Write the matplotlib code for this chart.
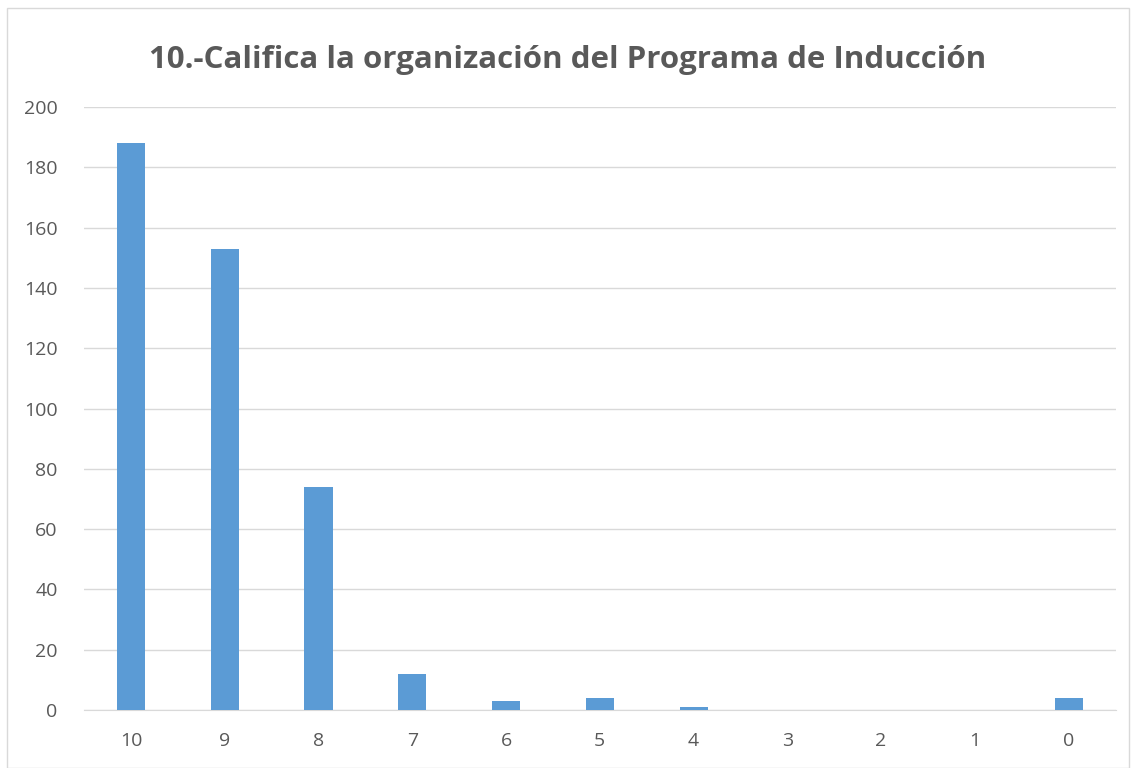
import matplotlib.pyplot as plt
from matplotlib.patches import Rectangle
import numpy as np

categories = ["10", "9", "8", "7", "6", "5", "4", "3", "2", "1", "0"]
counts = [188, 153, 74, 12, 3, 4, 1, 0, 0, 0, 4]

TEXT = "#595959"
GRID = "#d9d9d9"
BAR = "#5b9bd5"

plt.rcParams["font.family"] = ["Open Sans", "DejaVu Sans"]

fig = plt.figure(figsize=(11.36, 7.68), dpi=100)
ax = fig.add_axes([0.074, 0.0755, 0.908, 0.785])

x = np.arange(len(categories))
ax.bar(x, counts, width=0.3, color=BAR, zorder=3)

ax.set_xlim(-0.5, len(categories) - 0.5)
ax.set_ylim(0, 200)
ax.set_yticks(np.arange(0, 201, 20))
ax.set_xticks(x)
ax.set_xticklabels(categories)
ax.grid(axis="y", color=GRID, linewidth=1, zorder=0)
ax.tick_params(length=0, colors=TEXT, labelsize=14)
ax.tick_params(axis="x", pad=16)
ax.tick_params(axis="y", pad=19)
for name, spine in ax.spines.items():
    spine.set_visible(name == "bottom")
ax.spines["bottom"].set_color(GRID)

fig.text(0.5, 0.922, "10.-Califica la organización del Programa de Inducción",
         ha="center", va="center", fontsize=22.5, fontweight="bold", color=TEXT)

fig.patches.append(Rectangle((7 / 1136, 0), 1 - 14 / 1136, 1 - 8 / 768,
                             transform=fig.transFigure, fill=False,
                             edgecolor=GRID, linewidth=1))

fig.savefig("out.png", dpi=100, facecolor="white")
